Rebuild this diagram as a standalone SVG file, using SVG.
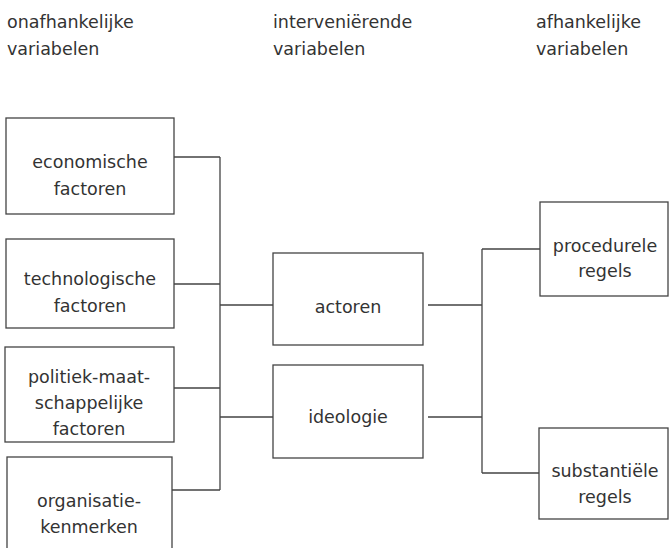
<svg xmlns="http://www.w3.org/2000/svg" width="669" height="548" viewBox="0 0 669 548">
<style>
.bg{fill:#fff}
.box{fill:#fff;stroke:#444;stroke-width:1.3}
.t{font-family:"DejaVu Sans","Liberation Sans",sans-serif;font-size:17.5px;fill:#333}
.c{text-anchor:middle}
.ln{fill:none;stroke:#444;stroke-width:1.3}
</style>
<rect class="bg" x="0" y="0" width="669" height="548"/>
<g id="headers">
<text class="t" x="7" y="28">onafhankelijke</text>
<text class="t" x="7" y="55">variabelen</text>
<text class="t" x="273" y="28">interveniërende</text>
<text class="t" x="273" y="55">variabelen</text>
<text class="t" x="536" y="28">afhankelijke</text>
<text class="t" x="536" y="55">variabelen</text>
</g>
<g id="connectors">
<path class="ln" d="M174 157H220M174 284H220M174 388H220M172 490H220M220 157V490"/>
<path class="ln" d="M220 305H273M220 417H273"/>
<path class="ln" d="M428 305H482M428 417H482M482 249V473M482 249H540M482 473H539"/>
</g>
<g id="economische">
<rect class="box" x="6" y="118" width="168" height="96"/>
<text class="t c" x="90" y="168">economische</text>
<text class="t c" x="90" y="195">factoren</text>
</g>
<g id="technologische">
<rect class="box" x="6" y="239" width="168" height="89"/>
<text class="t c" x="90" y="285">technologische</text>
<text class="t c" x="90" y="312">factoren</text>
</g>
<g id="politiek">
<rect class="box" x="5" y="347" width="169" height="95"/>
<text class="t c" x="89" y="383">politiek-maat-</text>
<text class="t c" x="89" y="409">schappelijke</text>
<text class="t c" x="89" y="435">factoren</text>
</g>
<g id="organisatie">
<rect class="box" x="7" y="457" width="165" height="100"/>
<text class="t c" x="89" y="507">organisatie-</text>
<text class="t c" x="89" y="533">kenmerken</text>
</g>
<g id="actoren">
<rect class="box" x="273" y="253" width="150" height="92"/>
<text class="t c" x="348" y="313">actoren</text>
</g>
<g id="ideologie">
<rect class="box" x="273" y="365" width="150" height="93"/>
<text class="t c" x="348" y="423">ideologie</text>
</g>
<g id="procedurele">
<rect class="box" x="540" y="202" width="128" height="94"/>
<text class="t c" x="605" y="252">procedurele</text>
<text class="t c" x="605" y="277">regels</text>
</g>
<g id="substantiele">
<rect class="box" x="539" y="428" width="129" height="91"/>
<text class="t c" x="605" y="477">substantiële</text>
<text class="t c" x="605" y="503">regels</text>
</g>
</svg>
